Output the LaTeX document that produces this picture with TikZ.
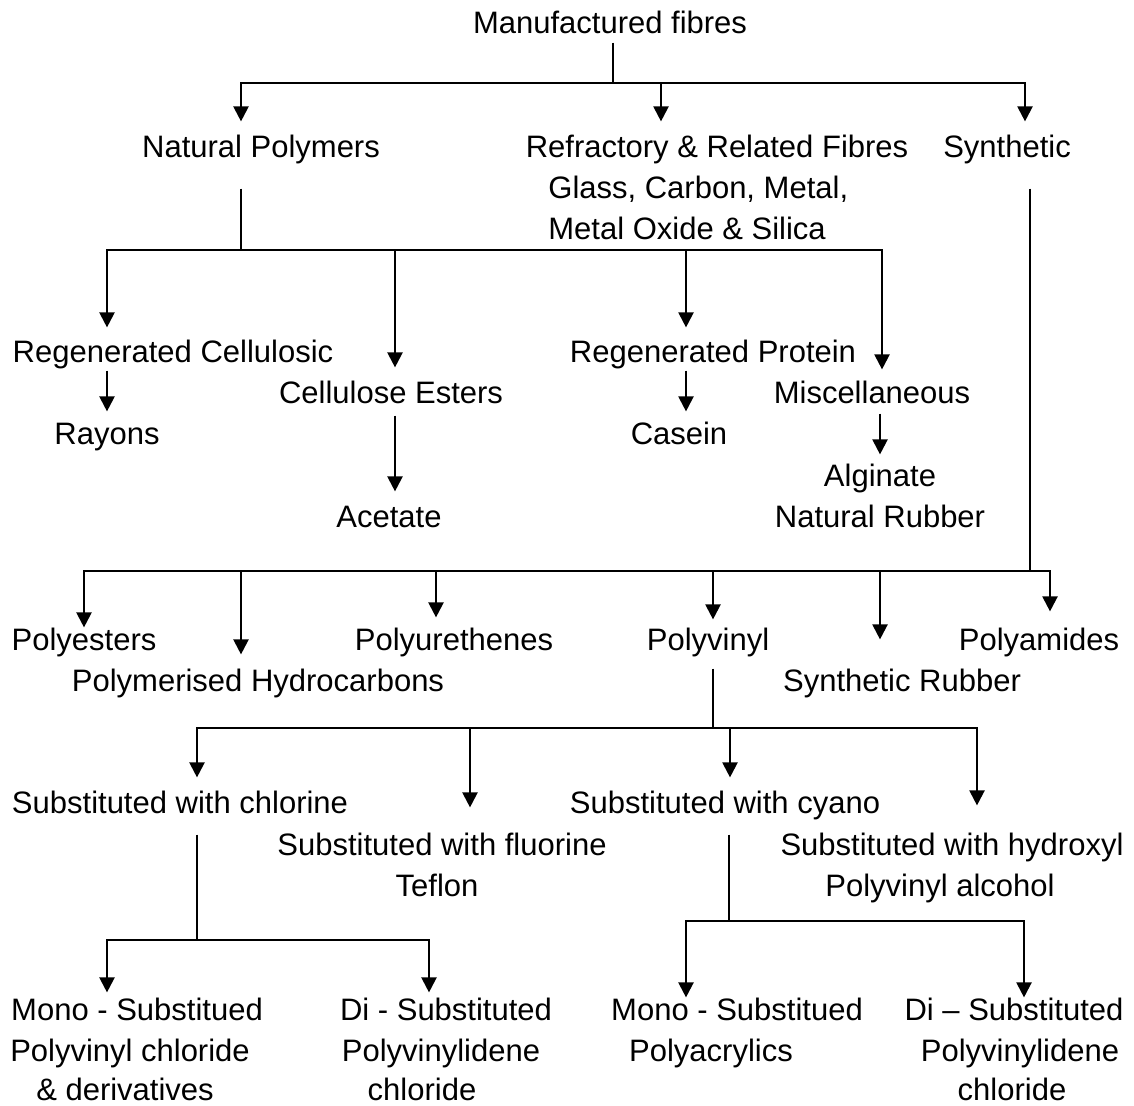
\documentclass[tikz,border=0pt]{standalone}
\usepackage{fontspec}
\setmainfont{Liberation Sans}
\usetikzlibrary{arrows.meta}
\begin{document}
\begin{tikzpicture}[x=0.5pt,y=-0.5pt,
  lbl/.style={inner sep=0pt, text height=11.1pt, text depth=3.3pt, anchor=base, font=\fontsize{15.5}{20.5}\selectfont},
  lbw/.style={lbl, anchor=base west},
  lnk/.style={line width=1.1pt},
  arr/.style={line width=1.1pt, -{Triangle[width=7.5pt,length=7.5pt]}},
]
\useasboundingbox (0,0) rectangle (1134,1105);

% ---------- nodes ----------
\node[lbl] (mf) at (610,33) {Manufactured fibres};
\node[lbl] (np) at (261,157) {Natural Polymers};
\node[lbl] (rf) at (717,157) {Refractory \& Related Fibres};
\node[lbw] (rf2) at (548,198) {Glass, Carbon, Metal,};
\node[lbw] (rf3) at (548,239) {Metal Oxide \& Silica};
\node[lbl] (sy) at (1007,157) {Synthetic};

\node[lbl] (rc) at (173,362) {Regenerated Cellulosic};
\node[lbl] (rp) at (713,362) {Regenerated Protein};
\node[lbl] (ce) at (391,403) {Cellulose Esters};
\node[lbl] (mi) at (872,403) {Miscellaneous};
\node[lbl] (ra) at (107,444) {Rayons};
\node[lbl] (ca) at (679,444) {Casein};
\node[lbl] (ac) at (389,527) {Acetate};
\node[lbl] (al) at (880,486) {Alginate};
\node[lbl] (nr) at (880,527) {Natural Rubber};

\node[lbl] (pe) at (84,650) {Polyesters};
\node[lbl] (pu) at (454,650) {Polyurethenes};
\node[lbl] (pv) at (708,650) {Polyvinyl};
\node[lbl] (pa) at (1039,650) {Polyamides};
\node[lbl] (ph) at (258,691) {Polymerised Hydrocarbons};
\node[lbl] (sr) at (902,691) {Synthetic Rubber};

\node[lbl] (sc) at (180,813) {Substituted with chlorine};
\node[lbl] (sn) at (725,813) {Substituted with cyano};
\node[lbl] (sf) at (442,855) {Substituted with fluorine};
\node[lbl] (tf) at (437,896) {Teflon};
\node[lbl] (sh) at (952,855) {Substituted with hydroxyl};
\node[lbl] (pl) at (940,896) {Polyvinyl alcohol};

\node[lbl] (m1a) at (137,1020) {Mono - Substitued};
\node[lbl] (m1b) at (130,1061) {Polyvinyl chloride};
\node[lbl] (m1c) at (125,1100) {\& derivatives};
\node[lbl] (d1a) at (446,1020) {Di - Substituted};
\node[lbl] (d1b) at (441,1061) {Polyvinylidene};
\node[lbl] (d1c) at (422,1100) {chloride};
\node[lbl] (m2a) at (737,1020) {Mono - Substitued};
\node[lbl] (m2b) at (711,1061) {Polyacrylics};
\node[lbl] (d2a) at (1014,1020) {Di – Substituted};
\node[lbl] (d2b) at (1020,1061) {Polyvinylidene};
\node[lbl] (d2c) at (1012,1100) {chloride};

% ---------- bus coordinates ----------
\coordinate (b1) at (613,83);
\coordinate (b1a) at (241,83);
\coordinate (b1b) at (661,83);
\coordinate (b1c) at (1025,83);

\coordinate (b2) at (241,250);
\coordinate (b2a) at (107,250);
\coordinate (b2b) at (395,250);
\coordinate (b2c) at (686,250);
\coordinate (b2d) at (882,250);

\coordinate (b3) at (1030,571);
\coordinate (b3a) at (84,571);
\coordinate (b3b) at (241,571);
\coordinate (b3c) at (436,571);
\coordinate (b3d) at (713,571);
\coordinate (b3e) at (880,571);
\coordinate (b3f) at (1050,571);

\coordinate (b4) at (713,728);
\coordinate (b4a) at (197,728);
\coordinate (b4b) at (470,728);
\coordinate (b4c) at (730,728);
\coordinate (b4d) at (977,728);

\coordinate (b5) at (197,940);
\coordinate (b5a) at (107,940);
\coordinate (b5b) at (429,940);

\coordinate (b6) at (729,921);
\coordinate (b6a) at (686,921);
\coordinate (b6b) at (1024,921);

\coordinate (s1) at (107,0);
\coordinate (s2) at (686,0);
\coordinate (s3) at (395,0);
\coordinate (s4) at (880,0);

% ---------- level 1 ----------
\draw[lnk, shorten <=1.25pt] (mf.south -| b1) -- (b1);
\draw[arr, shorten >=6.5pt] (b1) -- (b1a) -- (b1a |- np.north);
\draw[arr, shorten >=6.5pt] (b1) -- (b1c) -- (b1c |- sy.north);
\draw[arr, shorten >=6.5pt] (b1b) -- (b1b |- rf.north);

% ---------- natural polymers ----------
\draw[lnk, shorten <=12.25pt] (np.south -| b2) -- (b2);
\draw[arr, shorten >=6pt] (b2) -- (b2a) -- (b2a |- rc.north);
\draw[arr, shorten >=5.5pt] (b2) -- (b2d) -- (b2d |- mi.north);
\draw[arr, shorten >=6.5pt] (b2b) -- (b2b |- ce.north);
\draw[arr, shorten >=6pt] (b2c) -- (b2c |- rp.north);

\draw[arr, shorten <=0.75pt, shorten >=5pt] (rc.south -| s1) -- (s1 |- ra.north);
\draw[arr, shorten <=0.75pt, shorten >=5pt] (rp.south -| s2) -- (s2 |- ca.north);
\draw[arr, shorten <=2.75pt, shorten >=6.5pt] (ce.south -| s3) -- (s3 |- ac.north);
\draw[arr, shorten <=1.75pt, shorten >=4.5pt] (mi.south -| s4) -- (s4 |- al.north);

% ---------- synthetic ----------
\draw[lnk, shorten <=12.25pt] (sy.south -| b3) -- (b3);
\draw[arr] (b3) -- (b3a) -- (b3a |- pe.north);
\draw[arr, shorten >=8pt] (b3) -- (b3f) -- (b3f |- pa.north);
\draw[arr, shorten >=7pt] (b3b) -- (b3b |- ph.north);
\draw[arr, shorten >=5pt] (b3c) -- (b3c |- pu.north);
\draw[arr, shorten >=4pt] (b3d) -- (b3d |- pv.north);
\draw[arr, shorten >=14.5pt] (b3e) -- (b3e |- sr.north);

% ---------- polyvinyl ----------
\draw[lnk, shorten <=5.75pt] (pv.south -| b4) -- (b4);
\draw[arr, shorten >=6.5pt] (b4) -- (b4a) -- (b4a |- sc.north);
\draw[arr, shorten >=13.5pt] (b4) -- (b4d) -- (b4d |- sh.north);
\draw[arr, shorten >=12.5pt] (b4b) -- (b4b |- sf.north);
\draw[arr, shorten >=6.5pt] (b4c) -- (b4c |- sn.north);

% ---------- chlorine ----------
\draw[lnk, shorten <=7.25pt] (sc.south -| b5) -- (b5);
\draw[arr, shorten >=2.5pt] (b5) -- (b5a) -- (b5a |- m1a.north);
\draw[arr, shorten >=2.5pt] (b5) -- (b5b) -- (b5b |- d1a.north);

% ---------- cyano ----------
\draw[lnk, shorten <=7.25pt] (sn.south -| b6) -- (b6);
\draw[arr] (b6) -- (b6a) -- (b6a |- m2a.north);
\draw[arr] (b6) -- (b6b) -- (b6b |- d2a.north);
\end{tikzpicture}
\end{document}
